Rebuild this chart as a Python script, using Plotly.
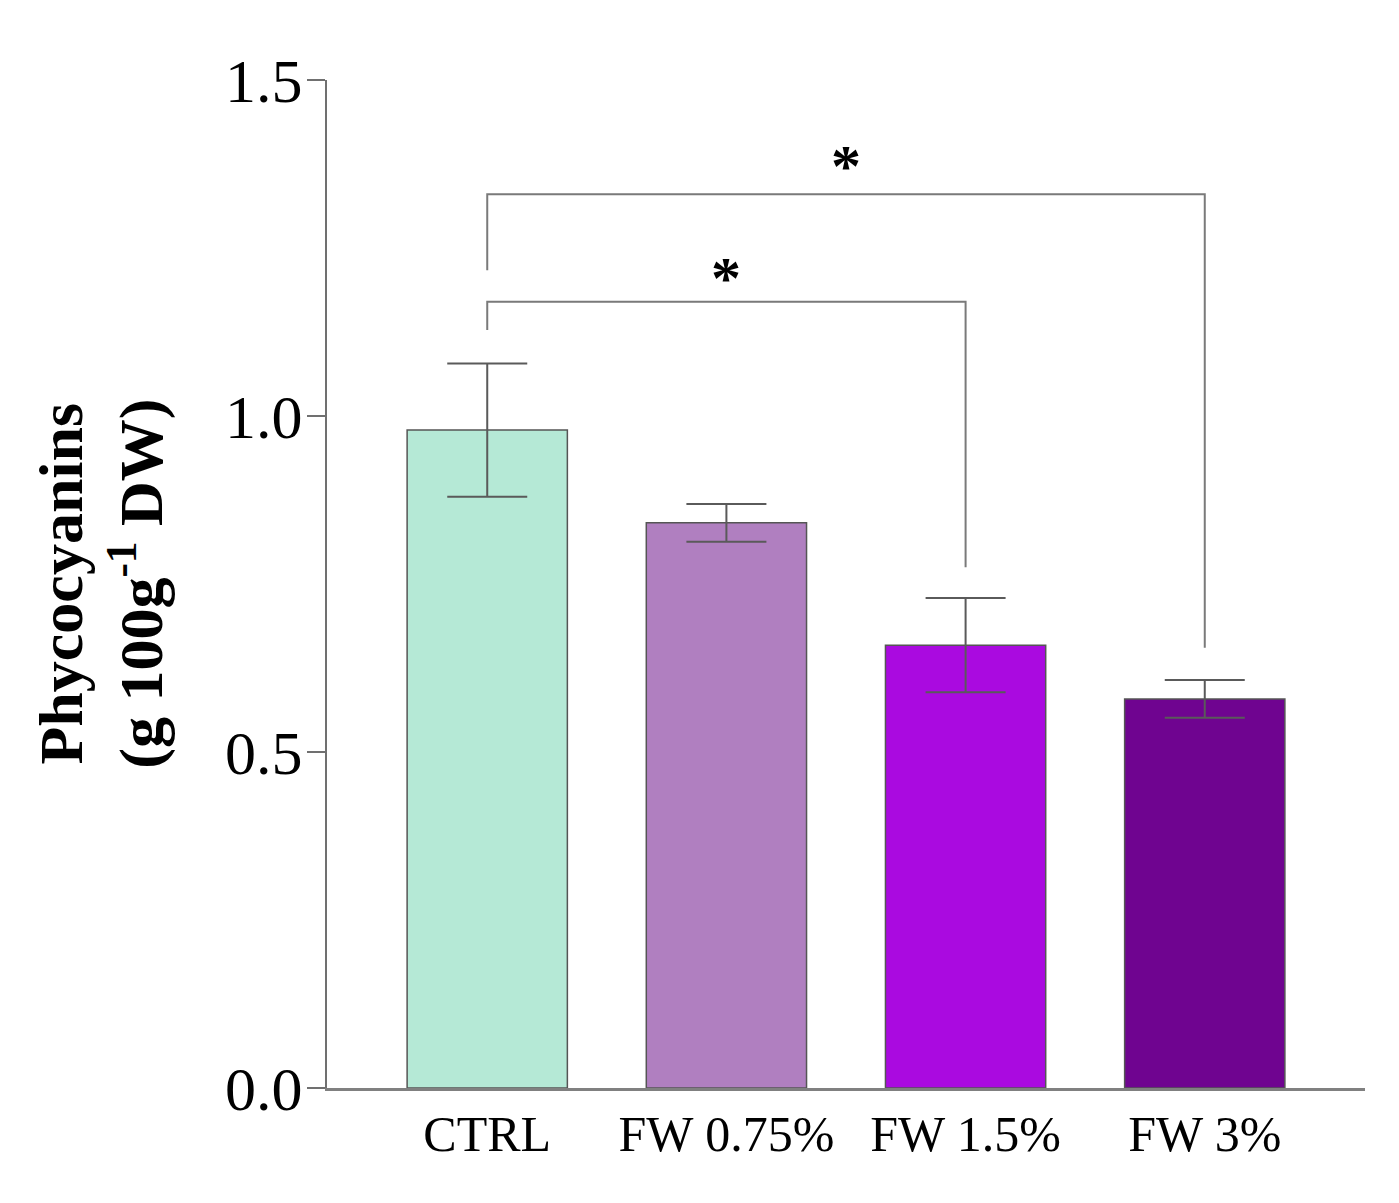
import plotly.graph_objects as go

categories = ["CTRL", "FW 0.75%", "FW 1.5%", "FW 3%"]
means = [0.979, 0.841, 0.659, 0.579]
errors = [0.099, 0.028, 0.070, 0.028]
colors = ["#b5e9d6", "#b07fc0", "#aa0ae0", "#6f0490"]
y_ticks = [0.0, 0.5, 1.0, 1.5]
y_tick_labels = ["0.0", "0.5", "1.0", "1.5"]

# significance brackets: (from index, to index, left foot, top, right foot, star y)
bracket_from = [0, 0]
bracket_to = [2, 3]
bracket_left_foot = [1.128, 1.217]
bracket_top = [1.170, 1.330]
bracket_right_foot = [0.775, 0.655]
bracket_label = ["*", "*"]
star_y = [1.205, 1.372]

fig = go.Figure()
fig.add_trace(go.Bar(
    x=categories, y=means,
    marker=dict(color=colors, line=dict(color="#555555", width=1.5)),
    width=0.67,
    error_y=dict(type="data", array=errors, visible=True,
                 color="#5a5a5a", thickness=2, width=40),
    showlegend=False,
))

for i in range(len(bracket_from)):
    a, b = categories[bracket_from[i]], categories[bracket_to[i]]
    fig.add_trace(go.Scatter(
        x=[a, a, b, b],
        y=[bracket_left_foot[i], bracket_top[i], bracket_top[i], bracket_right_foot[i]],
        mode="lines", line=dict(color="#7a7a7a", width=2),
        showlegend=False, hoverinfo="skip",
    ))
    xm = (bracket_from[i] + bracket_to[i]) / 2
    fig.add_annotation(x=xm, y=star_y[i], text="<b>" + bracket_label[i] + "</b>",
                       showarrow=False, xref="x", yref="y", yanchor="middle",
                       font=dict(family="Liberation Serif", size=60, color="black"))

fig.add_annotation(
    x=-0.217, y=0.5, xref="paper", yref="paper",
    text="<b>Phycocyanins<br>(g 100g<sup>-1</sup> DW)</b>",
    textangle=-90, showarrow=False, xanchor="center", yanchor="middle",
    font=dict(family="Liberation Serif", size=62, color="black"),
)

fig.update_layout(
    width=1399, height=1203,
    margin=dict(l=319, r=42, t=72, b=123),
    plot_bgcolor="white", paper_bgcolor="white",
    font=dict(family="Liberation Serif", color="black"),
    xaxis=dict(
        range=[-0.67, 3.67], showline=True, linecolor="#808080", linewidth=3,
        ticks="", tickfont=dict(size=50, color="black"), showgrid=False,
        zeroline=False, fixedrange=True,
    ),
    yaxis=dict(
        range=[0, 1.5], tickvals=y_ticks, ticktext=y_tick_labels,
        showline=True, linecolor="#707070", linewidth=2,
        ticks="outside", ticklen=18, tickwidth=2, tickcolor="#707070",
        tickfont=dict(size=62, color="black"), showgrid=False, zeroline=False,
        ticklabelstandoff=-8, fixedrange=True,
    ),
    bargap=0.33,
)

fig.write_html("out.html")
